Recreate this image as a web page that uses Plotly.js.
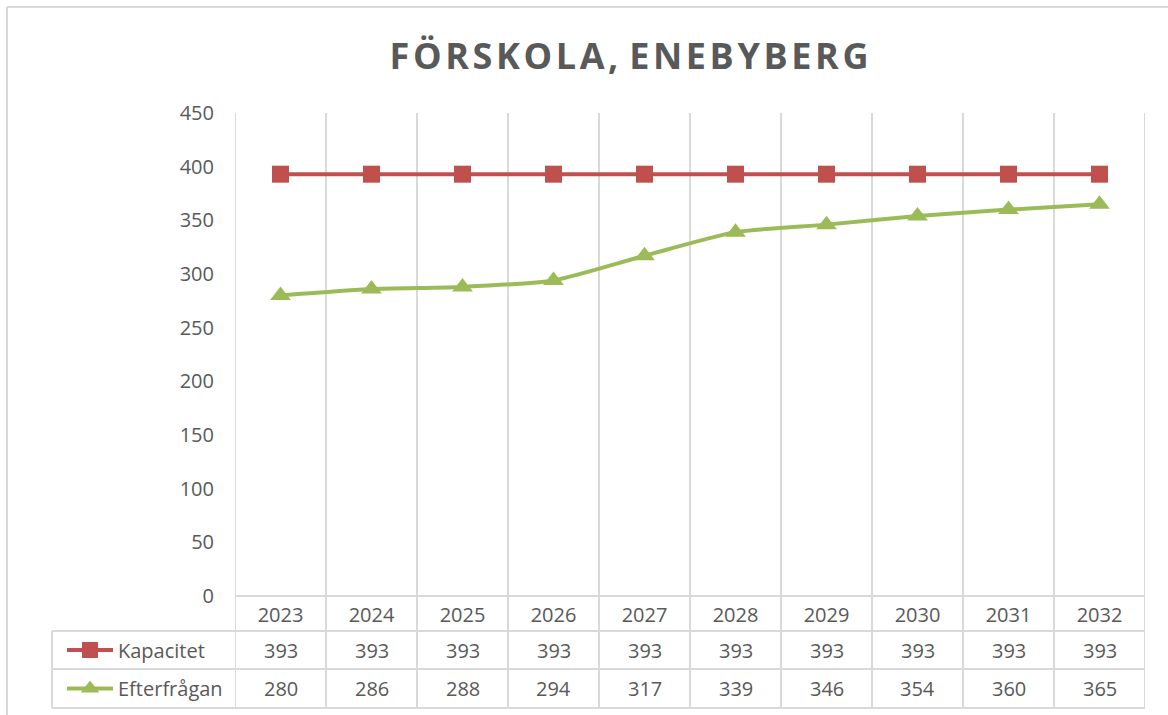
<!DOCTYPE html>
<html>
<head>
<meta charset="utf-8">
<script src="https://cdn.plot.ly/plotly-3.0.1.min.js"></script>
<style>
  html, body { margin: 0; padding: 0; background: #fff; }
  #chart { width: 1168px; height: 715px; }
</style>
</head>
<body>
<div id="chart"></div>
<script>
// data
years = [2023, 2024, 2025, 2026, 2027, 2028, 2029, 2030, 2031, 2032];
kapacitet = [393, 393, 393, 393, 393, 393, 393, 393, 393, 393];
efterfragan = [280, 286, 288, 294, 317, 339, 346, 354, 360, 365];
seriesNames = ['Kapacitet', 'Efterfrågan'];
yTicks = [0, 50, 100, 150, 200, 250, 300, 350, 400, 450];

textColor = '#595959';
gridColor = '#d9d9d9';
fnt = 'Open Sans, sans-serif';
fs = 20;

// plot area in pixels: 235..1145 x 113..596
W = 1168; H = 715;
mL = 235; mR = 23; mT = 113; mB = 119;
plotW = W - mL - mR;
plotH = H - mT - mB;
// table rows below the axis
rowLine1 = -(631 - 596) / plotH;
rowLine2 = -(669 - 596) / plotH;
rowLine3 = -(708 - 596) / plotH;
tableLeft = (52 - mL) / plotW;

var trace1 = {
  x: years,
  y: kapacitet,
  name: seriesNames[0],
  mode: 'lines+markers',
  type: 'scatter',
  line: {color: '#c0504d', width: 4},
  marker: {symbol: 'square', size: 17, color: '#c0504d'},
  legend: 'legend'
};

var trace2 = {
  x: years,
  y: efterfragan,
  name: seriesNames[1],
  mode: 'lines+markers',
  type: 'scatter',
  line: {color: '#9bbb59', width: 4, shape: 'spline', smoothing: 0.6},
  marker: {symbol: 'triangle-up', size: 18, color: '#9bbb59'},
  legend: 'legend2'
};

shapes = [];
annotations = [];

// vertical grid / table lines at category boundaries
for (i = 0; i <= years.length; i++) {
  shapes.push({
    type: 'line', xref: 'x', yref: 'paper',
    x0: years[0] - 0.5 + i, x1: years[0] - 0.5 + i,
    y0: rowLine3, y1: 1,
    line: {color: gridColor, width: 2}, layer: 'below'
  });
}
// horizontal table lines
shapes.push({type: 'line', xref: 'paper', yref: 'paper', x0: 0, x1: 1, y0: 0, y1: 0,
  line: {color: gridColor, width: 2}, layer: 'below'});
[rowLine1, rowLine2, rowLine3].forEach(function (yy) {
  shapes.push({type: 'line', xref: 'paper', yref: 'paper', x0: tableLeft, x1: 1, y0: yy, y1: yy,
    line: {color: gridColor, width: 2}, layer: 'below'});
});
shapes.push({type: 'line', xref: 'paper', yref: 'paper', x0: tableLeft, x1: tableLeft, y0: rowLine3, y1: rowLine1,
  line: {color: gridColor, width: 2}, layer: 'below'});
// chart area border (top and left)
shapes.push({type: 'line', xref: 'paper', yref: 'paper',
  x0: (7 - mL) / plotW, x1: (W + 10 - mL) / plotW,
  y0: (H - 7 - mB) / plotH, y1: (H - 7 - mB) / plotH,
  line: {color: gridColor, width: 2}});
shapes.push({type: 'line', xref: 'paper', yref: 'paper',
  x0: (7 - mL) / plotW, x1: (7 - mL) / plotW,
  y0: (H - 7 - mB) / plotH, y1: -(H + 10 - mB - plotH) / plotH,
  line: {color: gridColor, width: 2}});

// table values
rows = [kapacitet, efterfragan];
rowMid = [(rowLine1 + rowLine2) / 2, (rowLine2 + rowLine3) / 2];
for (r = 0; r < rows.length; r++) {
  for (i = 0; i < years.length; i++) {
    annotations.push({
      xref: 'x', yref: 'paper', x: years[i], y: rowMid[r],
      text: String(rows[r][i]), showarrow: false,
      xanchor: 'center', yanchor: 'middle',
      font: {family: fnt, size: fs, color: textColor}
    });
  }
}

var legendBase = {
  xref: 'paper', yref: 'paper', x: (62 - mL) / plotW, xanchor: 'left', yanchor: 'middle',
  bgcolor: 'rgba(0,0,0,0)', borderwidth: 0,
  font: {family: fnt, size: fs, color: textColor},
  itemwidth: 46
};

var layout = {
  width: W, height: H,
  margin: {l: mL, r: mR, t: mT, b: mB, autoexpand: false},
  paper_bgcolor: '#fff',
  plot_bgcolor: 'rgba(0,0,0,0)',
  title: {
    text: 'F Ö R S K O L A ,   E N E B Y B E R G'.replace(/ /g, '\u200a'),
    font: {family: fnt, size: 36, color: textColor, weight: 700},
    x: 629 / W, xanchor: 'center', xref: 'container',
    y: 1 - 56 / H, yanchor: 'middle', yref: 'container'
  },
  xaxis: {
    range: [years[0] - 0.5, years[years.length - 1] + 0.5],
    tickvals: years,
    ticktext: years.map(String),
    showgrid: false, zeroline: false, showline: false,
    ticks: '', ticklabelstandoff: 5,
    tickfont: {family: fnt, size: fs, color: textColor},
    automargin: false,
    fixedrange: true
  },
  yaxis: {
    range: [0, 450],
    tickvals: yTicks,
    showgrid: false, zeroline: false, showline: false,
    ticks: '', ticklabelstandoff: 20,
    tickfont: {family: fnt, size: fs, color: textColor},
    automargin: false,
    fixedrange: true
  },
  showlegend: true,
  legend: Object.assign({}, legendBase, {y: rowMid[0]}),
  legend2: Object.assign({}, legendBase, {y: rowMid[1]}),
  shapes: shapes,
  annotations: annotations
};

Plotly.newPlot('chart', [trace1, trace2], layout, {staticPlot: true});
</script>
</body>
</html>
